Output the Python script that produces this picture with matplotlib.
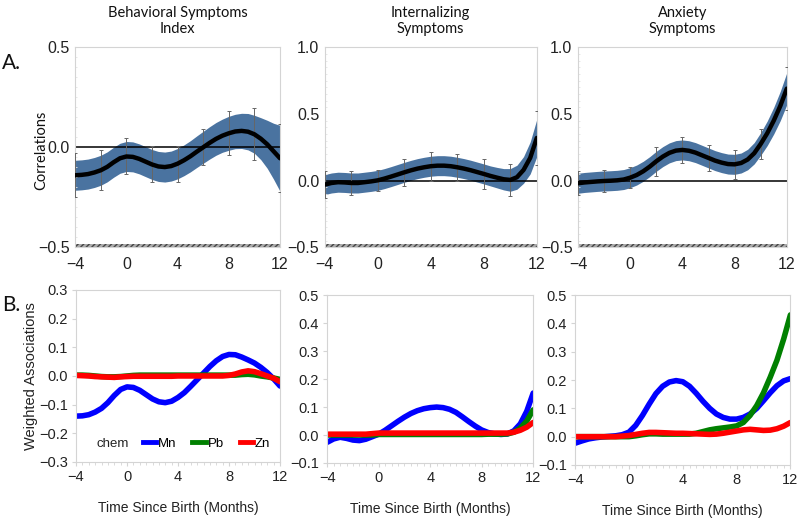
import numpy as np
import matplotlib.pyplot as plt
from matplotlib.lines import Line2D

# months on the x axis (half-month steps)
months = np.arange(-4, 12.5, 0.5)
bar_months = np.arange(-4, 13, 2)

# --- Row A: correlations (fit, band half width, error bar half width) ---
beh_fit = [-0.14, -0.138, -0.134, -0.126, -0.115, -0.098, -0.075, -0.055, -0.046,
           -0.048, -0.058, -0.072, -0.086, -0.096, -0.099, -0.094, -0.082, -0.065,
           -0.045, -0.022, 0.0, 0.022, 0.042, 0.058, 0.07, 0.079, 0.082, 0.078,
           0.065, 0.043, 0.015, -0.02, -0.055]
beh_band = [0.075] * 16 + [0.076, 0.077, 0.078, 0.079, 0.08, 0.081, 0.082, 0.083,
                           0.085, 0.086, 0.088, 0.091, 0.095, 0.105, 0.12, 0.14, 0.165]
beh_err = [0.11, 0.1, 0.09, 0.09, 0.09, 0.09, 0.11, 0.13, 0.17]

int_fit = [-0.03, -0.018, -0.012, -0.014, -0.018, -0.018, -0.012, -0.006, 0.002,
           0.015, 0.03, 0.046, 0.062, 0.077, 0.09, 0.1, 0.108, 0.112, 0.112, 0.108,
           0.1, 0.09, 0.078, 0.064, 0.05, 0.035, 0.022, 0.01, 0.005, 0.025, 0.08,
           0.17, 0.32]
int_band = [0.075] * 26 + [0.077, 0.08, 0.085, 0.09, 0.1, 0.12, 0.14]
int_err = [0.1, 0.09, 0.08, 0.1, 0.11, 0.1, 0.11, 0.12, 0.2]

anx_fit = [-0.02, -0.014, -0.01, -0.006, -0.003, -0.001, 0.002, 0.008, 0.022, 0.042,
           0.07, 0.105, 0.145, 0.18, 0.208, 0.225, 0.23, 0.224, 0.21, 0.19, 0.17,
           0.15, 0.135, 0.124, 0.122, 0.132, 0.158, 0.205, 0.275, 0.355, 0.45,
           0.56, 0.69]
anx_band = [0.075] * 26 + [0.077, 0.08, 0.085, 0.092, 0.1, 0.11, 0.12]
anx_err = [0.09, 0.08, 0.08, 0.11, 0.1, 0.1, 0.11, 0.11, 0.16]

# --- Row B: weighted associations by chemical ---
beh_mn = [-0.14, -0.139, -0.135, -0.126, -0.113, -0.093, -0.068, -0.047, -0.038,
          -0.04, -0.05, -0.065, -0.08, -0.09, -0.093, -0.088, -0.075, -0.058,
          -0.036, -0.013, 0.01, 0.033, 0.053, 0.068, 0.075, 0.074, 0.066, 0.056,
          0.045, 0.03, 0.012, -0.01, -0.035]
beh_pb = [0.003, 0.003, 0.002, 0.0, -0.002, -0.003, -0.003, -0.002, 0.0, 0.002,
          0.003, 0.003, 0.003, 0.003, 0.003, 0.003, 0.003, 0.003, 0.003, 0.003,
          0.003, 0.003, 0.003, 0.003, 0.003, 0.003, 0.005, 0.006, 0.004, 0.0,
          -0.003, -0.007, -0.012]
beh_zn = [0.002, 0.001, 0.0, -0.002, -0.003, -0.004, -0.005, -0.003, -0.002, -0.001,
          -0.001, -0.001, -0.001, -0.001, -0.001, -0.001, 0.0, 0.0, 0.0, 0.0, 0.0,
          0.0, 0.0, 0.0, 0.002, 0.007, 0.014, 0.018, 0.015, 0.008, 0.0, -0.008, -0.02]

int_mn = [-0.026, -0.014, -0.008, -0.012, -0.018, -0.02, -0.015, -0.006, 0.003,
          0.017, 0.033, 0.049, 0.064, 0.077, 0.087, 0.094, 0.098, 0.1, 0.098, 0.092,
          0.081, 0.065, 0.048, 0.032, 0.018, 0.009, 0.004, 0.002, 0.004, 0.015,
          0.04, 0.085, 0.15]
int_pb = [0.0] * 8 + [0.002] * 17 + [0.003, 0.003, 0.003, 0.004, 0.01, 0.025, 0.05, 0.09]
int_zn = [0.003] * 7 + [0.005] + [0.007] * 21 + [0.01, 0.017, 0.028, 0.045]

anx_mn = [-0.023, -0.015, -0.008, -0.004, -0.001, 0.001, 0.003, 0.007, 0.016, 0.04,
          0.075, 0.115, 0.152, 0.178, 0.193, 0.198, 0.194, 0.178, 0.153, 0.125, 0.1,
          0.08, 0.068, 0.062, 0.062, 0.068, 0.08, 0.1, 0.127, 0.155, 0.18, 0.197,
          0.205]
anx_pb = [0.0] * 9 + [0.003, 0.007, 0.01, 0.01, 0.009, 0.009, 0.009, 0.009, 0.009,
                      0.012, 0.018, 0.024, 0.028, 0.031, 0.034, 0.038, 0.05, 0.075,
                      0.11, 0.155, 0.21, 0.27, 0.345, 0.43]
anx_zn = [0.0] * 7 + [0.002, 0.004, 0.008, 0.012, 0.015, 0.015, 0.014, 0.013, 0.012,
                      0.012, 0.011, 0.01, 0.009, 0.008, 0.009, 0.012, 0.016, 0.02,
                      0.024, 0.026, 0.024, 0.022, 0.023, 0.028, 0.037, 0.05]

titles = ['Behavioral Symptoms\nIndex', 'Internalizing\nSymptoms', 'Anxiety\nSymptoms']

band_color = '#4a73a0'
spine_color = '#d4d4d4'
tick_font = 'Liberation Sans'


def minus_labels(vals, fmt):
    return [('\u2212' if v < 0 else '') + format(abs(v), fmt) for v in vals]


fig = plt.figure(figsize=(8, 5.26), dpi=100)

top_pos = [[0.094, 0.530, 0.256, 0.380],
           [0.406, 0.530, 0.265, 0.380],
           [0.7225, 0.530, 0.261, 0.380]]
bot_pos = [[0.095, 0.1217, 0.255, 0.327],
           [0.409, 0.1198, 0.2575, 0.319],
           [0.719, 0.116, 0.269, 0.323]]

top_data = [(beh_fit, beh_band, beh_err), (int_fit, int_band, int_err),
            (anx_fit, anx_band, anx_err)]
top_ylims = [(-0.5, 0.5), (-0.5, 1.0), (-0.5, 1.0)]
top_yticks = [[-0.5, 0.0, 0.5], [-0.5, 0.0, 0.5, 1.0], [-0.5, 0.0, 0.5, 1.0]]

for i in range(3):
    ax = fig.add_axes(top_pos[i])
    fit, band, err = [np.array(a) for a in top_data[i]]
    ax.fill_between(months, fit - band, fit + band, color=band_color, lw=0, zorder=1)
    ax.axhline(0, color='black', lw=1.1, zorder=2)
    ax.errorbar(bar_months, fit[::4], yerr=err, fmt='none', ecolor='#666666',
                elinewidth=0.7, capsize=1.5, capthick=0.7, zorder=3)
    ax.plot(months, fit, color='black', lw=3.2, zorder=4, solid_capstyle='round',
            solid_joinstyle='round')
    # hatched rug strip at the bottom
    lo, hi = top_ylims[i]
    ax.axhspan(lo, lo + 0.018 * (hi - lo), facecolor='#aaaaaa', edgecolor='#444444',
               hatch='//////', lw=0, zorder=2)
    ax.set_xlim(-4, 12)
    ax.set_ylim(lo, hi)
    ax.set_xticks([-4, 0, 4, 8, 12])
    ax.set_yticks(top_yticks[i])
    ax.set_xticklabels(minus_labels([-4, 0, 4, 8, 12], 'd'))
    ax.set_yticklabels(minus_labels(top_yticks[i], '.1f'))
    ax.set_xticks(np.arange(-4, 12.5, 0.5), minor=True)
    ax.set_yticks(np.arange(lo, hi + 0.01, 0.05), minor=True)
    ax.tick_params(which='major', length=0, labelsize=11.5, pad=4, colors='#222222')
    ax.tick_params(axis='x', which='major', pad=7)
    ax.tick_params(which='minor', length=1.5, color='#e4e4e4', direction='in')
    for lab in ax.get_xticklabels() + ax.get_yticklabels():
        lab.set_fontfamily(tick_font)
    for s in ax.spines.values():
        s.set_color(spine_color)
        s.set_linewidth(0.8)
    ax.set_title(titles[i], fontsize=10.5, family='Lato', pad=10, color='#111111')

bot_data = [(beh_mn, beh_pb, beh_zn), (int_mn, int_pb, int_zn), (anx_mn, anx_pb, anx_zn)]
bot_ylims = [(-0.3, 0.3), (-0.1, 0.5), (-0.1, 0.5)]
chem_colors = ['#0000ff', '#008000', '#ff0000']
chem_names = ['Mn', 'Pb', 'Zn']

for i in range(3):
    ax = fig.add_axes(bot_pos[i])
    for series, c in zip(bot_data[i], chem_colors):
        ax.plot(months, series, color=c, lw=4.0, solid_capstyle='round',
                solid_joinstyle='round')
    lo, hi = bot_ylims[i]
    ax.set_xlim(-4, 12)
    ax.set_ylim(lo, hi)
    ax.set_xticks([-4, 0, 4, 8, 12])
    ax.set_xticklabels(minus_labels([-4, 0, 4, 8, 12], 'd'))
    yt = np.round(np.arange(lo, hi + 0.001, 0.1), 1)
    ax.set_yticks(yt)
    ax.set_yticklabels(minus_labels(yt, '.1f'))
    ax.set_xticks(np.arange(-4, 12.5, 0.5), minor=True)
    ax.tick_params(which='major', length=3, labelsize=10.5, labelcolor='#222222', pad=3)
    ax.tick_params(which='minor', length=2)
    ax.tick_params(axis='both', which='both', color=spine_color)
    for lab in ax.get_xticklabels() + ax.get_yticklabels():
        lab.set_fontfamily(tick_font)
    for s in ax.spines.values():
        s.set_color(spine_color)
        s.set_linewidth(0.8)
    ax.set_xlabel('Time Since Birth (Months)', fontsize=10, family=tick_font,
                  labelpad=12, color='#222222')
    if i == 0:
        handles = [Line2D([0], [0], color=c, lw=3.5) for c in chem_colors]
        ax.text(0.1, 0.105, 'chem', transform=ax.transAxes, fontsize=9.5,
                family=tick_font, va='center', color='#222222')
        ax.legend(handles, chem_names, loc='center left', bbox_to_anchor=(0.27, 0.105),
                  ncol=3, frameon=False, handlelength=1.0, handletextpad=0.15,
                  columnspacing=1.2, prop={'family': tick_font, 'size': 9.5})
        ax.set_ylabel('Weighted Associations', fontsize=10.5, family=tick_font,
                      color='#222222')
        ax.yaxis.set_label_coords(-0.185, 0.5)

fig.text(0.052, 0.715, 'Correlations', rotation=90, fontsize=10.5, family='Lato',
         va='center', ha='center', color='#111111')
fig.text(0.003, 0.88, 'A.', fontsize=15, family='Lato', va='center', color='#111111')
fig.text(0.003, 0.42, 'B.', fontsize=15, family='Lato', va='center', color='#111111')

fig.savefig('out.png', dpi=100)
